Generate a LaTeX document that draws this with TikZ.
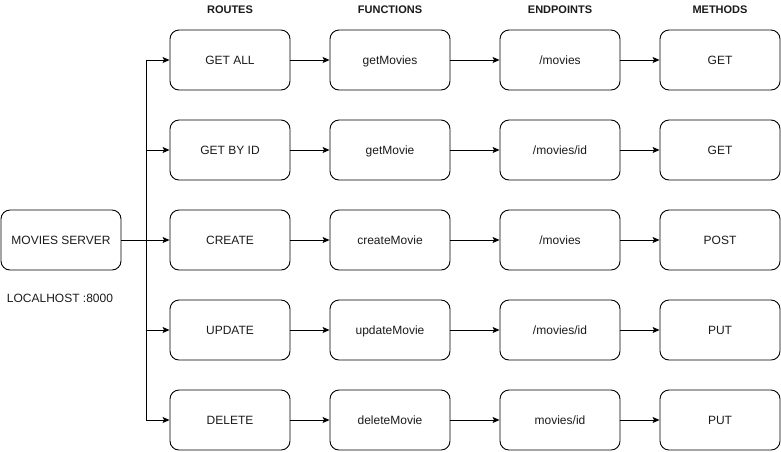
\documentclass[tikz,border=0pt]{standalone}
\usepackage{fontspec}
\setmainfont{Liberation Sans}
\usepackage{xcolor}
\usetikzlibrary{calc,arrows.meta}
\definecolor{ink}{HTML}{000000}
\definecolor{txt}{HTML}{1A1A1A}
\tikzset{
  box/.style={draw=ink, line width=0.9pt, rounded corners=9pt, minimum width=120pt,
    minimum height=60pt, inner sep=0pt, text height=10.6pt, text depth=2pt,
    text=txt, font=\fontsize{12}{14}\selectfont},
  link/.style={draw=ink, line width=0.9pt, -{Stealth[length=7pt,width=6pt,inset=1.5pt]}},
  head/.style={text=txt, font=\fontsize{11}{13}\selectfont\bfseries},
  lab/.style={text=txt, font=\fontsize{12}{14}\selectfont},
}

\begin{document}
\begin{tikzpicture}[x=1pt,y=-1pt]
  \useasboundingbox (0,0) rectangle (781,451);

  % headers
  \node[head] (hR) at (230,10) {ROUTES};
  \node[head] (hF) at (390,10) {FUNCTIONS};
  \node[head] (hE) at (560,10) {ENDPOINTS};
  \node[head] (hM) at (720,10) {METHODS};

  % server
  \node[box] (srv) at (61,240) {MOVIES SERVER};
  \node[lab] (host) at (60,298) {LOCALHOST :8000};
  \coordinate (bus) at (146,240);

  % rows
  \foreach \i/\y/\r/\f/\e/\m in {
      1/60/{GET ALL}/getMovies/{/movies}/GET,
      2/150/{GET BY ID}/getMovie/{/movies/id}/GET,
      3/240/CREATE/createMovie/{/movies}/POST,
      4/330/UPDATE/updateMovie/{/movies/id}/PUT,
      5/420/DELETE/deleteMovie/{movies/id}/PUT}{
    \node[box] (r\i) at (230,\y) {\r};
    \node[box] (f\i) at (390,\y) {\f};
    \node[box] (e\i) at (560,\y) {\e};
    \node[box] (m\i) at (720,\y) {\m};
    \draw[link] (r\i) -- (f\i);
    \draw[link] (f\i) -- (e\i);
    \draw[link] (e\i) -- (m\i);
    \draw[link] (bus) |- (r\i.west);
  }
  \draw[draw=ink, line width=0.9pt] (srv.east) -- (bus);
\end{tikzpicture}
\end{document}
